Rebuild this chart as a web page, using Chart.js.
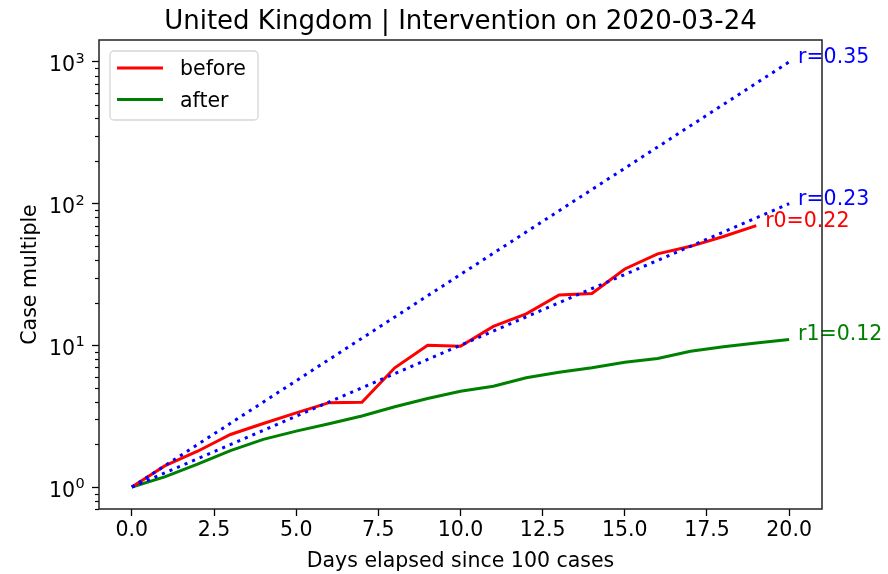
<!DOCTYPE html>
<html>
<head>
<meta charset="utf-8">
<script src="https://cdn.jsdelivr.net/npm/chart.js@4.4.1/dist/chart.umd.min.js"></script>
<style>
  html, body { margin: 0; padding: 0; background: #ffffff; }
  #c { display: block; }
</style>
</head>
<body>
<canvas id="c" width="888" height="574"></canvas>
<script>
// Case multiple relative to the day the 100th case was reached
const beforeDays  = [0, 1, 2, 3, 4, 5, 6, 7, 8, 9, 10, 11, 12, 13, 14, 15, 16, 17, 18, 19];
const beforeCases = [1, 1.41, 1.79, 2.35, 2.81, 3.34, 3.94, 3.97, 6.94, 10.0, 9.86, 13.6, 16.7, 22.7, 23.2, 34.6, 44.2, 50.0, 58.7, 69.9];
const afterDays   = [0, 1, 2, 3, 4, 5, 6, 7, 8, 9, 10, 11, 12, 13, 14, 15, 16, 17, 18, 19, 20];
const afterCases  = [1, 1.18, 1.45, 1.81, 2.17, 2.48, 2.80, 3.17, 3.69, 4.22, 4.75, 5.15, 5.90, 6.46, 6.94, 7.60, 8.07, 9.09, 9.76, 10.4, 11.0];

// Fitted growth rates of the two phases
const rateBefore = 0.22;
const rateAfter  = 0.12;

// Reference exponential growth rates (dotted guides over 20 days)
const guideRates = [0.3454, 0.2303];
const guideDays  = [0, 20];

const xTickValues = [0, 2.5, 5, 7.5, 10, 12.5, 15, 17.5, 20];
const yTickValues = [1, 10, 100, 1000];
const yTickBase   = '10';
const yTickPowers = ['0', '1', '2', '3'];

const titleText  = 'United Kingdom | Intervention on 2020-03-24';
const xAxisTitle = 'Days elapsed since 100 cases';
const yAxisTitle = 'Case multiple';

const FONT = "'DejaVu Sans', sans-serif";
const RED = '#ff0000', GREEN = '#008000', BLUE = '#0000ff';

const toPoints = (xs, ys) => xs.map((x, i) => ({ x: x, y: ys[i] }));
const guidePoints = r => guideDays.map(d => ({ x: d, y: Math.exp(r * d) }));

const datasets = [
  { label: 'r=' + guideRates[0].toFixed(2), data: guidePoints(guideRates[0]), borderColor: BLUE,
    borderWidth: 3, borderDash: [3.1, 5.1], borderCapStyle: 'butt', pointRadius: 0, order: 0, guide: true },
  { label: 'r=' + guideRates[1].toFixed(2), data: guidePoints(guideRates[1]), borderColor: BLUE,
    borderWidth: 3, borderDash: [3.1, 5.1], borderCapStyle: 'butt', pointRadius: 0, order: 1, guide: true },
  { label: 'before', data: toPoints(beforeDays, beforeCases), borderColor: RED,
    borderWidth: 3, pointRadius: 0, order: 2, endText: 'r0=' + rateBefore.toFixed(2) },
  { label: 'after', data: toPoints(afterDays, afterCases), borderColor: GREEN,
    borderWidth: 3, pointRadius: 0, order: 3, endText: 'r1=' + rateAfter.toFixed(2) }
];

const decorations = {
  id: 'decorations',
  afterDatasetsDraw(chart) {
    const ctx = chart.ctx;
    const a = chart.chartArea;
    const xs = chart.scales.x, ys = chart.scales.y;
    ctx.save();

    // labels at the right end of each line
    ctx.font = '20.5px ' + FONT;
    ctx.textAlign = 'left';
    ctx.textBaseline = 'alphabetic';
    chart.data.datasets.forEach((ds) => {
      const last = ds.data[ds.data.length - 1];
      const px = xs.getPixelForValue(last.x + 0.27);
      const py = ys.getPixelForValue(last.y);
      ctx.fillStyle = ds.borderColor;
      ctx.fillText(ds.guide ? ds.label : ds.endText, px, py + 1);
    });

    // y tick labels as powers of ten
    ctx.fillStyle = '#000';
    yTickValues.forEach((v, i) => {
      const py = ys.getPixelForValue(v);
      ctx.font = '20.5px ' + FONT;
      ctx.textAlign = 'right';
      ctx.fillText(yTickBase, 75, py + 9.5);
      ctx.font = '14.5px ' + FONT;
      ctx.textAlign = 'left';
      ctx.fillText(yTickPowers[i], 75.5, py + 1);
    });

    // minor log ticks on the y axis
    ctx.strokeStyle = '#000';
    ctx.lineWidth = 1.2;
    for (let k = -1; k <= 3; k++) {
      for (let m = 2; m <= 9; m++) {
        const v = m * Math.pow(10, k);
        if (v < ys.min || v > ys.max) continue;
        const py = Math.round(ys.getPixelForValue(v)) + 0.5;
        ctx.beginPath();
        ctx.moveTo(a.left - 4, py);
        ctx.lineTo(a.left, py);
        ctx.stroke();
      }
    }

    // axes frame
    ctx.strokeStyle = '#222';
    ctx.lineWidth = 1.5;
    ctx.strokeRect(a.left, a.top, a.right - a.left, a.bottom - a.top);

    // legend
    const lx = 110, ly = 51, lw = 148, lh = 69, r = 4;
    ctx.beginPath();
    ctx.moveTo(lx + r, ly);
    ctx.arcTo(lx + lw, ly, lx + lw, ly + lh, r);
    ctx.arcTo(lx + lw, ly + lh, lx, ly + lh, r);
    ctx.arcTo(lx, ly + lh, lx, ly, r);
    ctx.arcTo(lx, ly, lx + lw, ly, r);
    ctx.closePath();
    ctx.fillStyle = 'rgba(255,255,255,0.8)';
    ctx.fill();
    ctx.strokeStyle = '#d6d6d6';
    ctx.lineWidth = 1.3;
    ctx.stroke();
    const entries = chart.data.datasets.filter(ds => !ds.guide);
    ctx.font = '20.5px ' + FONT;
    ctx.textAlign = 'left';
    ctx.textBaseline = 'middle';
    entries.forEach((ds, i) => {
      const y = 68 + i * 31.5;
      ctx.strokeStyle = ds.borderColor;
      ctx.lineWidth = 3;
      ctx.beginPath();
      ctx.moveTo(117, y);
      ctx.lineTo(163, y);
      ctx.stroke();
      ctx.fillStyle = '#000';
      ctx.fillText(ds.label, 180, y + 2);
    });
    ctx.restore();
  },
  afterDraw(chart) {
    const ctx = chart.ctx;
    const a = chart.chartArea;
    ctx.save();
    ctx.fillStyle = '#000';
    ctx.textAlign = 'center';
    ctx.textBaseline = 'alphabetic';
    ctx.font = '26px ' + FONT;
    ctx.fillText(titleText, (a.left + a.right) / 2, 29);
    ctx.font = '20.5px ' + FONT;
    ctx.fillText(xAxisTitle, (a.left + a.right) / 2, 567);
    ctx.translate(36, (a.top + a.bottom) / 2);
    ctx.rotate(-Math.PI / 2);
    ctx.fillText(yAxisTitle, 0, 0);
    ctx.restore();
  }
};

new Chart(document.getElementById('c'), {
  type: 'line',
  data: { datasets: datasets },
  options: {
    responsive: false,
    animation: false,
    devicePixelRatio: 1,
    layout: { padding: { top: 40, right: 66, left: 0, bottom: 0 } },
    plugins: { legend: { display: false }, tooltip: { enabled: false }, title: { display: false } },
    elements: { line: { tension: 0 } },
    scales: {
      x: {
        type: 'linear',
        min: -1, max: 21,
        afterBuildTicks: s => { s.ticks = xTickValues.map(v => ({ value: v })); },
        afterFit: s => { s.height = 65; },
        ticks: {
          color: '#000', font: { family: FONT, size: 20.5 }, padding: 2, maxRotation: 0,
          callback: v => Number(v).toFixed(1)
        },
        grid: { drawOnChartArea: false, drawTicks: true, tickLength: 7, tickColor: '#000', tickWidth: 1.3 },
        border: { display: false }
      },
      y: {
        type: 'logarithmic',
        min: 0.708, max: 1429,
        afterBuildTicks: s => { s.ticks = yTickValues.map(v => ({ value: v })); },
        afterFit: s => { s.width = 99; },
        ticks: { display: false },
        grid: { drawOnChartArea: false, drawTicks: true, tickLength: 7, tickColor: '#000', tickWidth: 1.3 },
        border: { display: false }
      }
    }
  },
  plugins: [decorations]
});
</script>
</body>
</html>
